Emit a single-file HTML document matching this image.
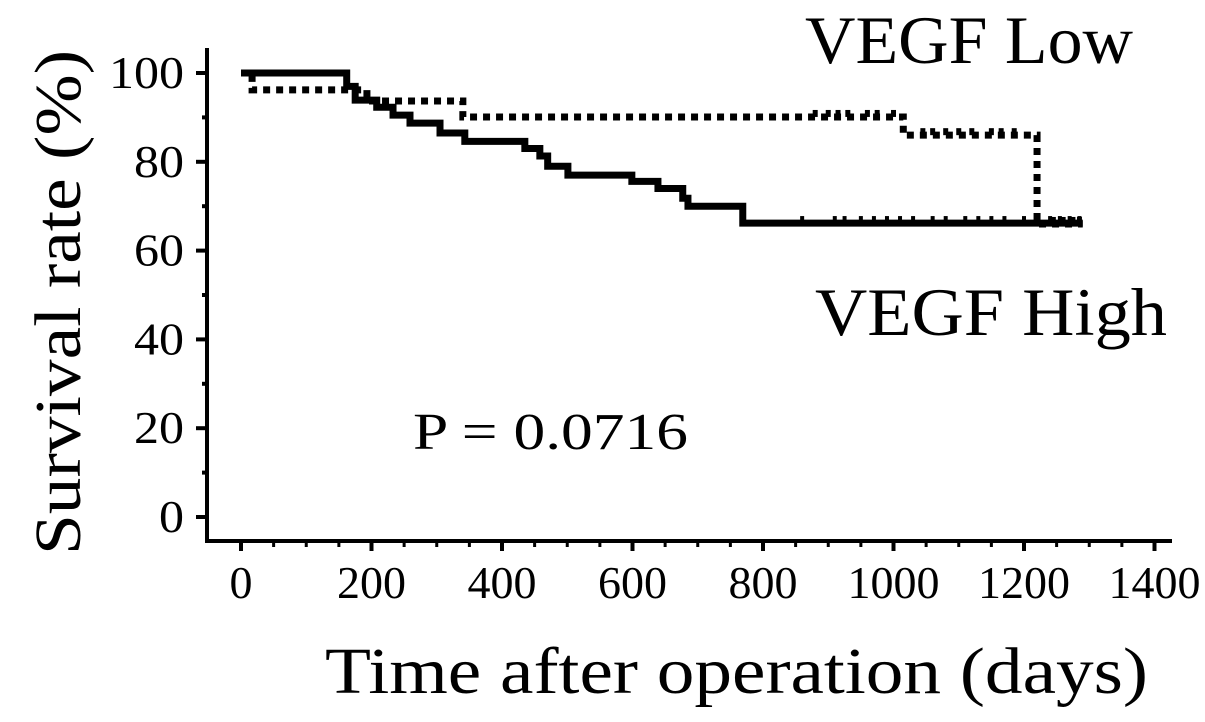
<!DOCTYPE html>
<html><head><meta charset="utf-8"><style>
html,body{margin:0;padding:0;background:#fff;}
svg{display:block;}
text{font-family:"Liberation Serif",serif;fill:#000;}
</style></head><body>
<svg id="chart" width="1205" height="722" viewBox="0 0 1205 722" xmlns="http://www.w3.org/2000/svg">
<g id="axes"></g>
<g id="series"></g>
<text x="805" y="63" font-size="68" textLength="328" lengthAdjust="spacingAndGlyphs">VEGF Low</text>
<text x="815" y="335" font-size="68" textLength="352" lengthAdjust="spacingAndGlyphs">VEGF High</text>
<text x="413" y="449" font-size="52" textLength="275" lengthAdjust="spacingAndGlyphs">P = 0.0716</text>
<text x="325" y="693" font-size="66" textLength="823" lengthAdjust="spacingAndGlyphs">Time after operation (days)</text>
<text transform="translate(80,555) rotate(-90)" x="0" y="0" font-size="66" textLength="505" lengthAdjust="spacingAndGlyphs">Survival rate (%)</text>
</svg>
<script>
const xTicks = [0,200,400,600,800,1000,1200,1400];
const yTicks = [0,20,40,60,80,100];
const highTimes = [0,162,175,208,233,259,305,343,435,458,470,501,599,639,677,685,769,1290];
const highSurv  = [100,97,93.9,92.3,90.5,88.7,86.5,84.6,83,81.3,79,77,75.6,74,71.8,70,66.2,66.2];
const lowTimes = [0,17,193,340,1015,1220,1290];
const lowSurv  = [100,96.2,93.7,90.1,86,66,66];
const lowCensor = [880,900,915,930,960,975,1000,1045,1060,1080,1100,1120,1150,1165,1185,1245,1260,1275,1285];
const highCensor = [860,910,925,950,970,990,1010,1030,1060,1080,1110,1130,1150,1170,1200,1240,1255,1270,1285];

const NS="http://www.w3.org/2000/svg";
const X0=241, XS=0.6525, Y0=517, YS=4.44;
const xs=d=>X0+d*XS, ys=v=>Y0-v*YS;
function mk(tag,attrs,parent){const e=document.createElementNS(NS,tag);for(const k in attrs)e.setAttribute(k,attrs[k]);parent.appendChild(e);return e;}
const axes=document.getElementById('axes'), series=document.getElementById('series');

const yl=mk('line',{x1:207,y1:48,x2:207,y2:543,stroke:'#000','stroke-width':4},axes);


const xl=mk('line',{x1:205,y1:541,x2:1172,y2:541,stroke:'#000','stroke-width':4},axes);



for(let d=0;d<=1400;d+=50){
  const major=d%200===0;
  const t=mk('line',{x1:xs(d),y1:541,x2:xs(d),y2:541+(major?10:6),stroke:'#000','stroke-width':major?4:3},axes);
  
  
}
xTicks.forEach(d=>{
  const s=String(d);
  const t=mk('text',{x:xs(d),y:598,'font-size':46,'text-anchor':'middle',textLength:s.length*23,lengthAdjust:'spacingAndGlyphs'},axes);
  t.textContent=s;
  
  
});
for(let v=0;v<=100;v+=10){
  const major=v%20===0;
  const t=mk('line',{x1:207-(major?11:5),y1:ys(v),x2:207,y2:ys(v),stroke:'#000','stroke-width':4},axes);
  
  
}
yTicks.forEach(v=>{
  const s=String(v);
  const t=mk('text',{x:184,y:ys(v)+15,'font-size':46,'text-anchor':'end',textLength:s.length*25,lengthAdjust:'spacingAndGlyphs'},axes);
  t.textContent=s;
  
  
});

function stepPath(T,S){
  let d='M'+xs(T[0])+' '+ys(S[0]);
  for(let i=1;i<T.length;i++){d+=' H'+xs(T[i])+' V'+ys(S[i]);}
  return d;
}
function survAt(T,S,t){let v=S[0];for(let i=0;i<T.length;i++){if(T[i]<=t)v=S[i];}return v;}

const hp=mk('path',{d:stepPath(highTimes,highSurv),fill:'none',stroke:'#000','stroke-width':7},series);


const lp=mk('path',{d:stepPath(lowTimes,lowSurv),fill:'none',stroke:'#000','stroke-width':7,'stroke-dasharray':'7 6'},series);



lowCensor.forEach(t=>{
  const y=ys(survAt(lowTimes,lowSurv,t));
  const c=mk('line',{x1:xs(t),y1:y-7,x2:xs(t),y2:y,stroke:'#000','stroke-width':5},series);
  
  
});
highCensor.forEach(t=>{
  const y=ys(survAt(highTimes,highSurv,t));
  const c=mk('line',{x1:xs(t),y1:y-7,x2:xs(t),y2:y,stroke:'#000','stroke-width':4},series);
  
  
});
</script>
</body></html>
